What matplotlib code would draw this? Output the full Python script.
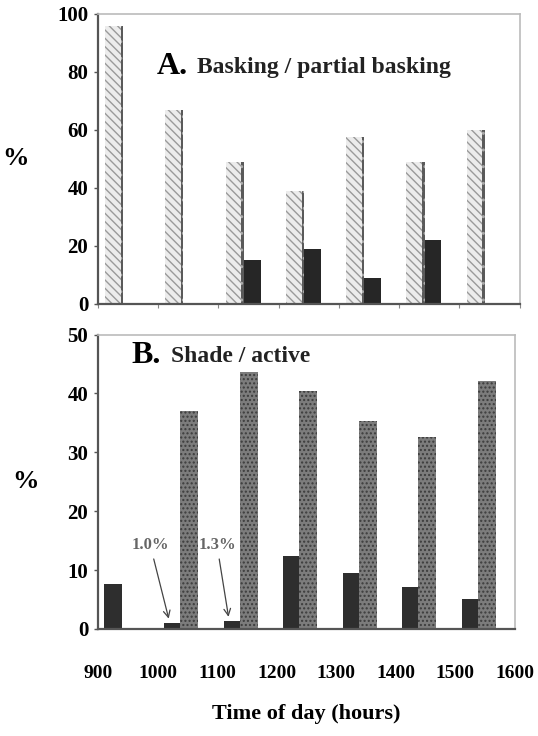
import numpy as np
import matplotlib.pyplot as plt

# time of day groups
hours = ['900', '1000', '1100', '1200', '1300', '1400', '1500', '1600']
groups = np.arange(7)

# A. basking / partial basking (%)
basking = [96, 67, 49, 39, 57.5, 49, 60]
partial = [0, 0, 15, 19, 9, 22, 0]

# B. shade / active (%)
shade = [7.7, 1.0, 1.3, 12.4, 9.5, 7.2, 5.1]
active = [0, 37, 43.7, 40.5, 35.4, 32.6, 42.2]

plt.rcParams['font.family'] = 'Liberation Serif'
plt.rcParams['font.weight'] = 'bold'
plt.rcParams['axes.labelweight'] = 'bold'
plt.rcParams['hatch.linewidth'] = 1.0

fig = plt.figure(figsize=(5.38, 7.36), dpi=100)
axA = fig.add_axes([0.182, 0.587, 0.784, 0.394])
axB = fig.add_axes([0.182, 0.1454, 0.775, 0.40])

def frame(ax):
    for s in ['left', 'bottom']:
        ax.spines[s].set_color('#555555')
        ax.spines[s].set_linewidth(1.6)
    for s in ['top', 'right']:
        ax.spines[s].set_color('#bbbbbb')
        ax.spines[s].set_linewidth(1.2)
    ax.tick_params(axis='y', length=3, width=1, color='#555555', labelsize=15, pad=4)
    ax.set_xlim(0, 7)

# panel A
axA.bar(groups + 0.12, basking, width=0.30, align='edge', color='#ececec',
        edgecolor='#9a9a9a', hatch='\\\\\\\\', linewidth=0)
axA.bar(groups + 0.38, basking, width=0.04, align='edge', color='#5a5a5a',
        edgecolor='#aaaaaa', hatch='..', linewidth=0)
axA.bar(groups + 0.42, partial, width=0.28, align='edge', color='#262626')
axA.set_ylim(0, 100)
axA.set_yticks([0, 20, 40, 60, 80, 100])
axA.set_xticks(np.arange(8))
axA.tick_params(axis='x', length=3, color='#888888', labelbottom=False)
frame(axA)
axA.set_ylabel('%', fontsize=19, rotation=0, labelpad=30, va='center')
axA.text(0.14, 0.82, 'A.', transform=axA.transAxes, fontsize=23, va='center')
axA.text(0.235, 0.815, 'Basking / partial basking', transform=axA.transAxes,
         fontsize=17, va='center', color='#222222')

# panel B
axB.bar(groups + 0.11, shade, width=0.29, align='edge', color='#2e2e2e')
axB.bar(groups + 0.38, active, width=0.30, align='edge', color='#7c7c7c',
        edgecolor='#3c3c3c', hatch='....', linewidth=0)
axB.set_ylim(0, 50)
axB.set_yticks([0, 10, 20, 30, 40, 50])
axB.set_xticks(np.arange(8))
axB.set_xticklabels(hours)
axB.tick_params(axis='x', length=0, labelsize=14, pad=26)
frame(axB)
axB.set_ylabel('%', fontsize=19, rotation=0, labelpad=30, va='center')
axB.text(0.08, 0.93, 'B.', transform=axB.transAxes, fontsize=23, va='center')
axB.text(0.175, 0.925, 'Shade / active', transform=axB.transAxes,
         fontsize=17, va='center', color='#222222')
axB.set_xlabel('Time of day (hours)', fontsize=16, labelpad=16)

axB.annotate('1.0%', xy=(1.2, shade[1] + 0.3), xytext=(0.88, 13.5),
             fontsize=12, color='#666666', ha='center',
             arrowprops=dict(arrowstyle='->', color='#444444', lw=0.9))
axB.annotate('1.3%', xy=(2.2, shade[2] + 0.3), xytext=(2.0, 13.5),
             fontsize=12, color='#666666', ha='center',
             arrowprops=dict(arrowstyle='->', color='#444444', lw=0.9))

fig.savefig('out.png', dpi=100)
